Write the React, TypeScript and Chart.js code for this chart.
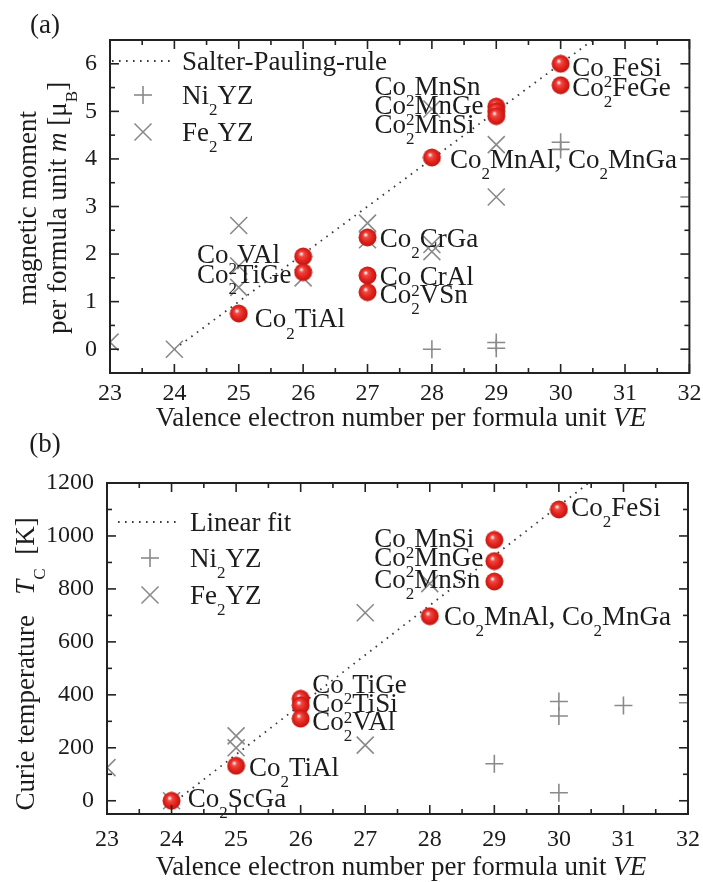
import React, { useEffect, useRef } from 'react';
import { Chart, registerables } from 'chart.js';

Chart.register(...registerables);

const SERIF = '"Liberation Serif", "Times New Roman", Times, serif';
const TEXT = '#1c1c1c';
const GRAY = '#8a8a8a';
const LINE = '#3a3a3a';

// ---------- shared axis ----------
const veTicks = [23, 24, 25, 26, 27, 28, 29, 30, 31, 32];

// ---------- panel (a): magnetic moment ----------
const momentTicks = [0, 1, 2, 3, 4, 5, 6];
const coNamesA = ['Co₂TiAl', 'Co₂VAl', 'Co₂TiGe', 'Co₂CrGa', 'Co₂CrAl', 'Co₂VSn', 'Co₂MnAl, Co₂MnGa', 'Co₂MnSn', 'Co₂MnGe', 'Co₂MnSi', 'Co₂FeSi', 'Co₂FeGe'];
const coVeA = [25, 26, 26, 27, 27, 27, 28, 29, 29, 29, 30, 30];
const coMomA = [0.75, 1.95, 1.62, 2.35, 1.55, 1.2, 4.03, 5.1, 5.0, 4.9, 6.0, 5.55];
const labelVeA = [25.25, 24.35, 24.35, 27.19, 27.19, 27.19, 28.28, 27.11, 27.11, 27.11, 30.18, 30.18];
const labelMomA = [0.65, 2.0, 1.58, 2.34, 1.54, 1.16, 4.0, 5.54, 5.14, 4.74, 5.94, 5.52];
const niVeA = [28, 29, 29, 30, 30, 32];
const niMomA = [0, 0.02, 0.14, 4.2, 4.35, 3.2];
const feVeA = [23, 24, 25, 25, 25, 26, 27, 27, 28, 28, 28, 29, 29];
const feMomA = [0.15, 0, 2.6, 1.75, 1.3, 1.5, 2.65, 2.3, 2.05, 2.2, 5.05, 4.3, 3.2];
const spRuleVe = [24, 30.5];
const spRuleMom = [0, 6.5];

// ---------- panel (b): Curie temperature ----------
const tcTicks = [0, 200, 400, 600, 800, 1000, 1200];
const coNamesB = ['Co₂ScGa', 'Co₂TiAl', 'Co₂TiGe', 'Co₂TiSi', 'Co₂VAl', 'Co₂MnAl, Co₂MnGa', 'Co₂MnSi', 'Co₂MnGe', 'Co₂MnSn', 'Co₂FeSi'];
const coVeB = [24, 25, 26, 26, 26, 28, 29, 29, 29, 30];
const coTcB = [0, 132, 385, 360, 310, 697, 985, 905, 828, 1100];
const labelVeB = [24.25, 25.2, 26.18, 26.18, 26.18, 28.22, 27.14, 27.14, 27.14, 30.19];
const labelTcB = [11, 128, 441, 370, 302, 698, 992, 920, 838, 1109];
const niVeB = [29, 30, 30, 30, 31, 32];
const niTcB = [140, 30, 375, 320, 360, 370];
const feVeB = [23, 24, 25, 25, 27, 27, 28];
const feTcB = [125, 0, 245, 200, 710, 210, 820];
const fitVe = [24.07, 30.46];
const fitTc = [0, 1200];

// ---------- rich text helpers ----------
type Seg = { t: string; it?: boolean; sub?: boolean };

function parseName(s: string): Seg[] {
  const segs: Seg[] = [];
  let buf = '';
  for (const ch of s) {
    if (ch === '₂') {
      if (buf) segs.push({ t: buf });
      buf = '';
      segs.push({ t: '2', sub: true });
    } else buf += ch;
  }
  if (buf) segs.push({ t: buf });
  return segs;
}

function fontFor(seg: Seg, size: number) {
  const sz = seg.sub ? Math.round(size * 0.62) : size;
  return `${seg.it ? 'italic ' : ''}${sz}px ${SERIF}`;
}

function richWidth(ctx: CanvasRenderingContext2D, segs: Seg[], size: number) {
  let w = 0;
  for (const s of segs) {
    ctx.font = fontFor(s, size);
    w += ctx.measureText(s.t).width;
  }
  return w;
}

function drawRich(ctx: CanvasRenderingContext2D, segs: Seg[], x: number, baseline: number, size: number, align: 'left' | 'center') {
  const w = richWidth(ctx, segs, size);
  let cx = align === 'center' ? x - w / 2 : x;
  ctx.textAlign = 'left';
  ctx.textBaseline = 'alphabetic';
  for (const s of segs) {
    ctx.font = fontFor(s, size);
    const dy = s.sub ? size * 0.42 : 0;
    ctx.fillText(s.t, cx, baseline + dy);
    cx += ctx.measureText(s.t).width;
  }
}

function makeSphere(d: number) {
  const c = document.createElement('canvas');
  c.width = d;
  c.height = d;
  const g = c.getContext('2d')!;
  const r = d / 2;
  const grad = g.createRadialGradient(r * 0.78, r * 0.7, r * 0.05, r, r, r);
  grad.addColorStop(0, '#fff4f4');
  grad.addColorStop(0.22, '#f04a44');
  grad.addColorStop(0.6, '#e3221c');
  grad.addColorStop(1, '#b81410');
  g.fillStyle = grad;
  g.beginPath();
  g.arc(r, r, r - 0.5, 0, Math.PI * 2);
  g.fill();
  return c;
}

interface PanelCfg {
  height: number;
  area: { left: number; right: number; top: number; bottom: number };
  yMin: number;
  yMax: number;
  yTicks: number[];
  coNames: string[];
  coX: number[];
  coY: number[];
  labX: number[];
  labY: number[];
  niX: number[];
  niY: number[];
  feX: number[];
  feY: number[];
  lineX: number[];
  lineY: number[];
  letter: string;
  letterPos: [number, number];
  yTitle: { segs: Seg[]; cx: number }[];
  yTitleCy: number;
  xTitleY: number;
  xTickPad: number;
  legendName: string;
  legend: { lx1: number; lx2: number; mx: number; tx: number; rows: number[] };
}

const TXT = 27;
const TICK = 24;

function makeChart(canvas: HTMLCanvasElement, cfg: PanelCfg) {
  const sphere = makeSphere(19);
  const deco = {
    id: 'deco',
    afterDatasetsDraw(chart: any) {
      const ctx: CanvasRenderingContext2D = chart.ctx;
      const xs = chart.scales.x;
      const ys = chart.scales.y;
      ctx.save();
      ctx.fillStyle = TEXT;
      cfg.coNames.forEach((n, i) => {
        const px = xs.getPixelForValue(cfg.labX[i]);
        const py = ys.getPixelForValue(cfg.labY[i]);
        drawRich(ctx, parseName(n), px, py + TXT * 0.33, TXT, 'left');
      });
      ctx.restore();
    },
    afterDraw(chart: any) {
      const ctx: CanvasRenderingContext2D = chart.ctx;
      const xs = chart.scales.x;
      const ys = chart.scales.y;
      const { left, right, top, bottom } = chart.chartArea;
      ctx.save();
      // frame
      ctx.strokeStyle = '#222';
      ctx.lineWidth = 2;
      ctx.strokeRect(left, top, right - left, bottom - top);
      ctx.lineWidth = 1.6;
      const tick = (x1: number, y1: number, x2: number, y2: number) => {
        ctx.beginPath();
        ctx.moveTo(x1, y1);
        ctx.lineTo(x2, y2);
        ctx.stroke();
      };
      const MAJ = 9;
      const MIN = 5;
      veTicks.forEach((v, i) => {
        const p = xs.getPixelForValue(v);
        tick(p, bottom, p, bottom - MAJ);
        tick(p, top, p, top + MAJ);
        if (i < veTicks.length - 1) {
          const q = xs.getPixelForValue((v + veTicks[i + 1]) / 2);
          tick(q, bottom, q, bottom - MIN);
          tick(q, top, q, top + MIN);
        }
      });
      cfg.yTicks.forEach((v, i) => {
        const p = ys.getPixelForValue(v);
        tick(left, p, left + MAJ, p);
        tick(right, p, right - MAJ, p);
        if (i < cfg.yTicks.length - 1) {
          const q = ys.getPixelForValue((v + cfg.yTicks[i + 1]) / 2);
          tick(left, q, left + MIN, q);
          tick(right, q, right - MIN, q);
        }
      });
      // panel letter
      ctx.fillStyle = TEXT;
      ctx.font = `${TXT}px ${SERIF}`;
      ctx.textAlign = 'center';
      ctx.textBaseline = 'middle';
      ctx.fillText(cfg.letter, cfg.letterPos[0], cfg.letterPos[1]);
      // x title
      const xt: Seg[] = [{ t: 'Valence electron number per formula unit ' }, { t: 'VE', it: true }];
      drawRich(ctx, xt, 401, cfg.xTitleY + TXT * 0.33, TXT, 'center');
      // y title (rotated)
      cfg.yTitle.forEach((line) => {
        ctx.save();
        ctx.translate(line.cx, cfg.yTitleCy);
        ctx.rotate(-Math.PI / 2);
        drawRich(ctx, line.segs, 0, TXT * 0.33, TXT, 'center');
        ctx.restore();
      });
      // legend
      const lg = cfg.legend;
      ctx.strokeStyle = LINE;
      ctx.lineWidth = 1.8;
      ctx.setLineDash([1.6, 5.4]);
      tick(lg.lx1, lg.rows[0], lg.lx2, lg.rows[0]);
      ctx.setLineDash([]);
      ctx.strokeStyle = GRAY;
      ctx.lineWidth = 1.6;
      const m1 = lg.rows[1];
      tick(lg.mx - 9, m1, lg.mx + 9, m1);
      tick(lg.mx, m1 - 9, lg.mx, m1 + 9);
      const m2 = lg.rows[2];
      tick(lg.mx - 8.5, m2 - 8.5, lg.mx + 8.5, m2 + 8.5);
      tick(lg.mx - 8.5, m2 + 8.5, lg.mx + 8.5, m2 - 8.5);
      ctx.fillStyle = TEXT;
      drawRich(ctx, [{ t: cfg.legendName }], lg.tx, lg.rows[0] + TXT * 0.33, TXT, 'left');
      drawRich(ctx, parseName('Ni₂YZ'), lg.tx, lg.rows[1] + TXT * 0.33, TXT, 'left');
      drawRich(ctx, parseName('Fe₂YZ'), lg.tx, lg.rows[2] + TXT * 0.33, TXT, 'left');
      ctx.restore();
    },
  };

  const pts = (xa: number[], ya: number[]) => xa.map((x, i) => ({ x, y: ya[i] }));

  return new Chart(canvas, {
    type: 'scatter',
    data: {
      datasets: [
        {
          label: 'Co2YZ',
          data: pts(cfg.coX, cfg.coY),
          pointStyle: sphere as any,
          pointRadius: 9.5,
          pointHoverRadius: 9.5,
        },
        {
          label: 'Ni2YZ',
          data: pts(cfg.niX, cfg.niY),
          pointStyle: 'cross',
          pointRadius: 9,
          borderColor: GRAY,
          borderWidth: 1.6,
        },
        {
          label: 'Fe2YZ',
          data: pts(cfg.feX, cfg.feY),
          pointStyle: 'crossRot',
          pointRadius: 12,
          borderColor: GRAY,
          borderWidth: 1.6,
        },
        {
          type: 'line',
          label: 'line',
          data: pts(cfg.lineX, cfg.lineY),
          showLine: true,
          borderColor: LINE,
          borderWidth: 1.8,
          borderDash: [1.6, 5.4],
          pointRadius: 0,
          fill: false,
        } as any,
      ],
    },
    options: {
      animation: false,
      responsive: false,
      events: [],
      layout: {
        padding: { left: 0, right: 703 - cfg.area.right, top: cfg.area.top, bottom: 0 },
      },
      plugins: { legend: { display: false }, tooltip: { enabled: false } },
      scales: {
        x: {
          type: 'linear',
          min: 23,
          max: 32,
          grid: { display: false },
          border: { display: false },
          afterFit: (s: any) => {
            s.height = cfg.height - cfg.area.bottom;
          },
          afterBuildTicks: (s: any) => {
            s.ticks = veTicks.map((v) => ({ value: v }));
          },
          ticks: {
            font: { family: SERIF, size: TICK },
            color: TEXT,
            padding: cfg.xTickPad,
            maxRotation: 0,
            autoSkip: false,
            callback: (v: any) => String(v),
          },
        },
        y: {
          type: 'linear',
          min: cfg.yMin,
          max: cfg.yMax,
          grid: { display: false },
          border: { display: false },
          afterFit: (s: any) => {
            s.width = cfg.area.left;
          },
          afterBuildTicks: (s: any) => {
            s.ticks = cfg.yTicks.map((v) => ({ value: v }));
          },
          ticks: {
            font: { family: SERIF, size: TICK },
            color: TEXT,
            padding: 5,
            autoSkip: false,
            callback: (v: any) => String(v),
          },
        },
      },
    },
    plugins: [deco],
  } as any);
}

const cfgA: PanelCfg = {
  height: 430,
  area: { left: 110, right: 690, top: 40, bottom: 373 },
  yMin: -0.5,
  yMax: 6.5,
  yTicks: momentTicks,
  coNames: coNamesA,
  coX: coVeA,
  coY: coMomA,
  labX: labelVeA,
  labY: labelMomA,
  niX: niVeA,
  niY: niMomA,
  feX: feVeA,
  feY: feMomA,
  lineX: spRuleVe,
  lineY: spRuleMom,
  letter: '(a)',
  letterPos: [45, 26],
  yTitle: [
    { segs: [{ t: 'magnetic moment' }], cx: 27 },
    { segs: [{ t: 'per formula unit ' }, { t: 'm', it: true }, { t: ' [μ' }, { t: 'B', sub: true }, { t: ']' }], cx: 57 },
  ],
  yTitleCy: 208,
  xTitleY: 417,
  xTickPad: -2,
  legendName: 'Salter-Pauling-rule',
  legend: { lx1: 112, lx2: 170, mx: 143, tx: 182, rows: [61, 95, 132] },
};

const cfgB: PanelCfg = {
  height: 452,
  area: { left: 107, right: 690, top: 53, bottom: 384 },
  yMin: -50,
  yMax: 1200,
  yTicks: tcTicks,
  coNames: coNamesB,
  coX: coVeB,
  coY: coTcB,
  labX: labelVeB,
  labY: labelTcB,
  niX: niVeB,
  niY: niTcB,
  feX: feVeB,
  feY: feTcB,
  lineX: fitVe,
  lineY: fitTc,
  letter: '(b)',
  letterPos: [45, 15],
  yTitle: [
    { segs: [{ t: 'Curie temperature   ' }, { t: 'T', it: true }, { t: 'C', sub: true }, { t: '  [K]' }], cx: 25 },
  ],
  yTitleCy: 234,
  xTitleY: 436,
  xTickPad: 3,
  legendName: 'Linear fit',
  legend: { lx1: 118, lx2: 176, mx: 150, tx: 190, rows: [92, 128, 165] },
};

function Panel({ cfg, top }: { cfg: PanelCfg; top: number }) {
  const ref = useRef<HTMLCanvasElement>(null);
  useEffect(() => {
    const chart = makeChart(ref.current!, cfg);
    return () => chart.destroy();
  }, [cfg]);
  return (
    <canvas
      ref={ref}
      width={703}
      height={cfg.height}
      style={{ position: 'absolute', left: 0, top, width: 703, height: cfg.height, display: 'block' }}
    />
  );
}

export default function App() {
  return (
    <div style={{ position: 'absolute', left: 0, top: 0, width: 703, height: 882, background: '#fff' }}>
      <Panel cfg={cfgA} top={0} />
      <Panel cfg={cfgB} top={430} />
    </div>
  );
}
